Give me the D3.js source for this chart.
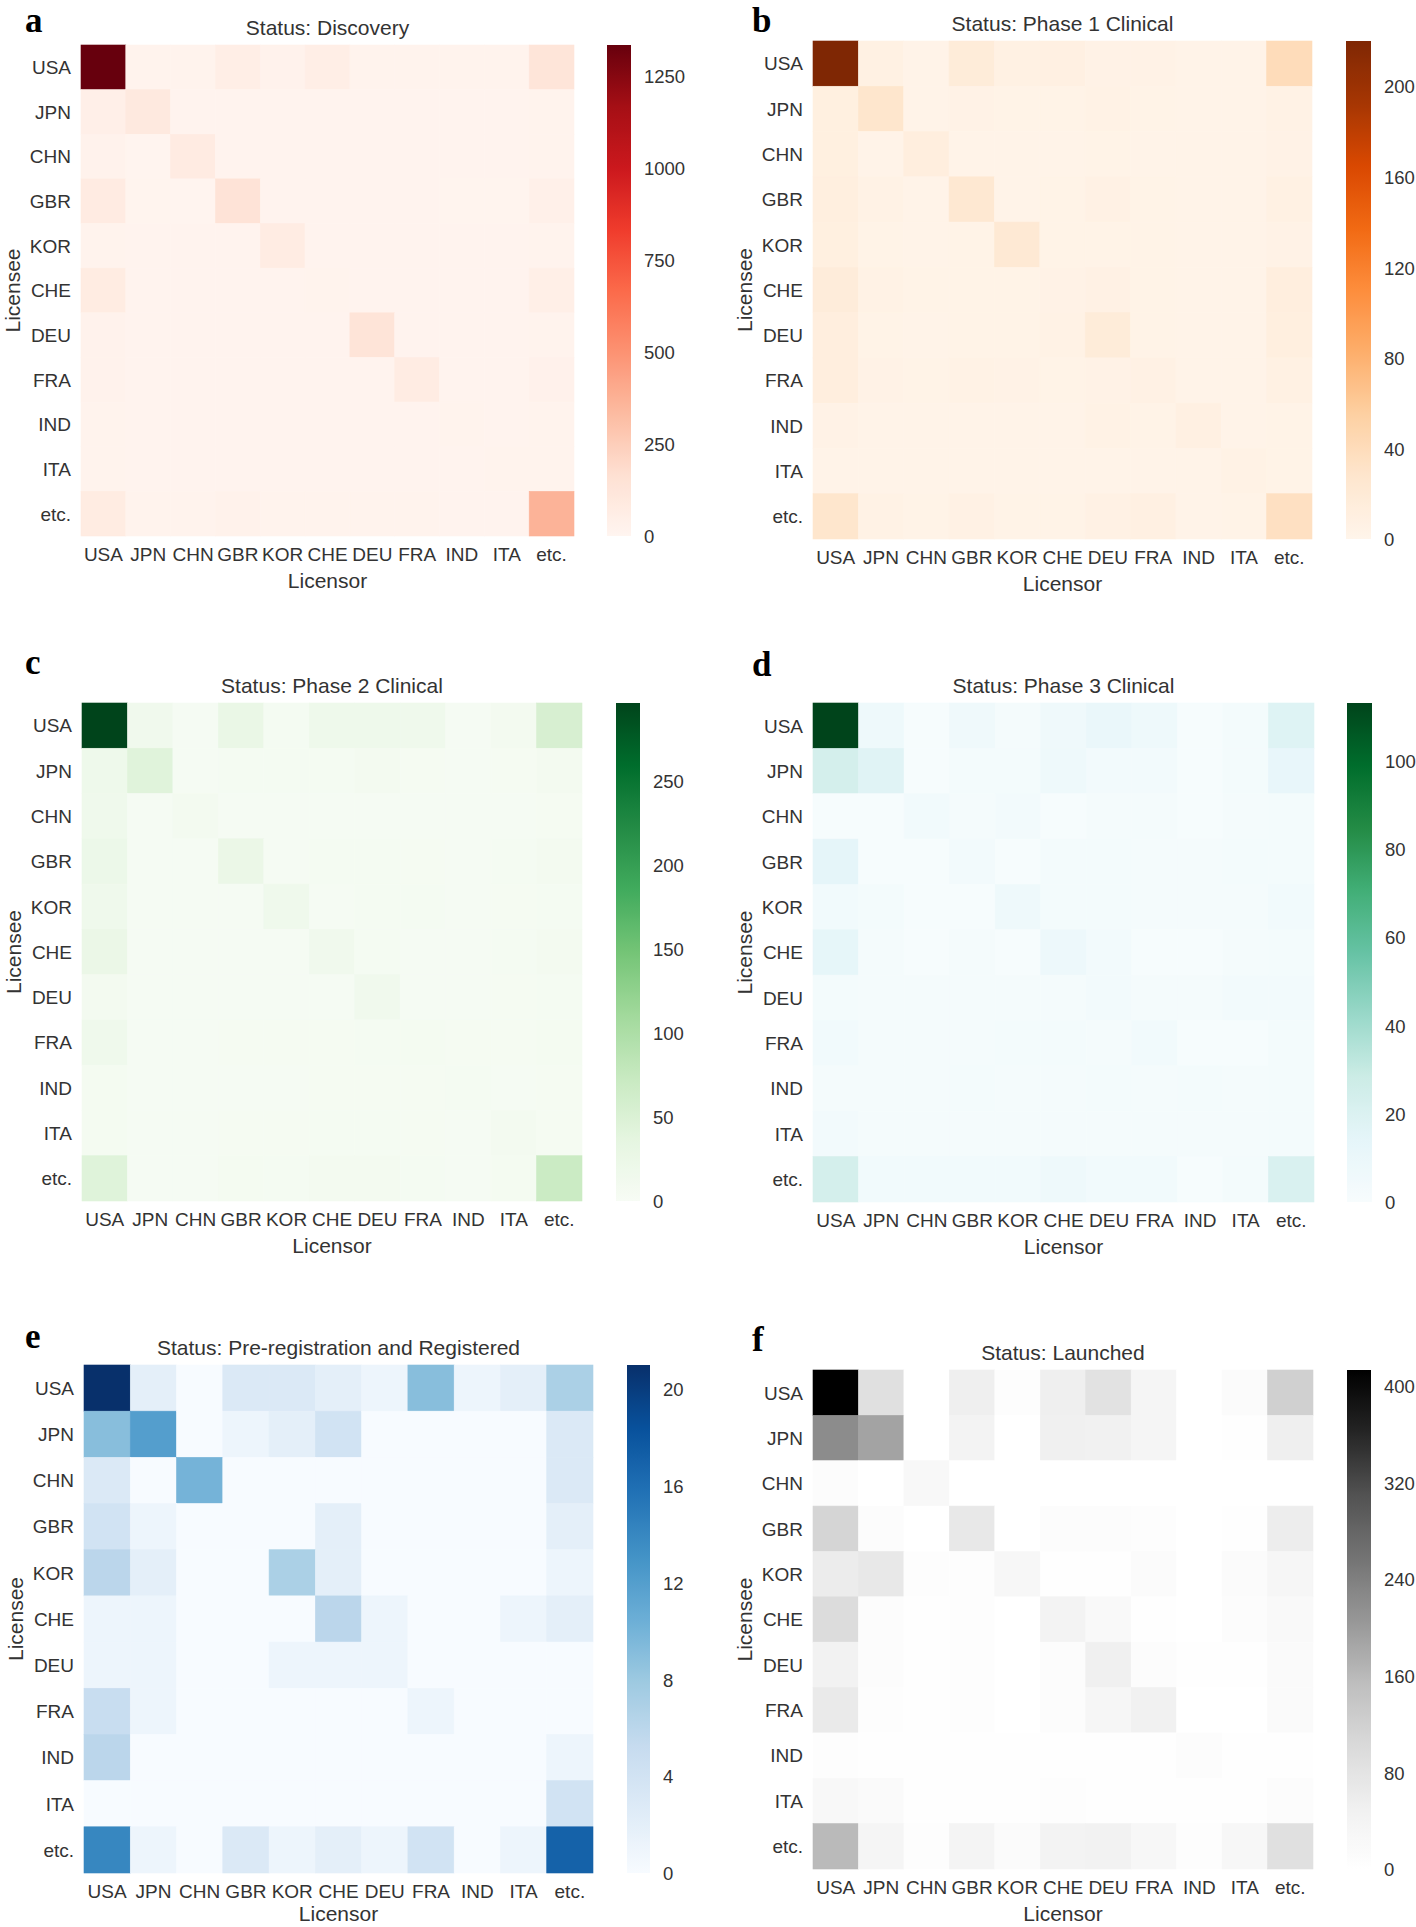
<!DOCTYPE html>
<html><head><meta charset="utf-8">
<script src="https://cdn.jsdelivr.net/npm/d3@7"></script>
<style>
body{margin:0;background:#fff}
svg{display:block}
</style>
</head><body>
<svg id="chart" width="1416" height="1927"></svg>
<script>
// ---------- data ----------
const countries = ["USA","JPN","CHN","GBR","KOR","CHE","DEU","FRA","IND","ITA","etc."];

// rows = Licensee, columns = Licensor
const discovery = [
  [1333, 18, 16, 55, 22, 55, 15, 15, 15, 15, 125],
  [45, 95, 12, 12, 12, 12, 12, 12, 12, 12, 15],
  [24, 8, 80, 12, 12, 12, 12, 12, 12, 12, 15],
  [80, 10, 8, 140, 12, 12, 12, 12, 10, 10, 40],
  [16, 12, 12, 12, 70, 12, 12, 12, 12, 12, 15],
  [75, 12, 12, 12, 12, 15, 12, 12, 12, 12, 48],
  [24, 12, 12, 12, 12, 12, 135, 12, 12, 12, 18],
  [24, 12, 12, 12, 12, 12, 12, 72, 12, 12, 30],
  [16, 12, 12, 12, 12, 12, 12, 12, 14, 12, 14],
  [14, 12, 12, 12, 12, 12, 12, 12, 12, 14, 14],
  [75, 15, 15, 25, 15, 15, 15, 15, 12, 12, 365]
];
const phase1 = [
  [220, 8, 3, 17, 8, 9, 5, 5, 3, 3, 40],
  [10, 28, 3, 5, 4, 4, 6, 4, 3, 3, 6],
  [10, 3, 12, 3, 3, 3, 4, 3, 3, 3, 5],
  [11, 6, 3, 24, 3, 4, 7, 4, 3, 3, 8],
  [10, 4, 3, 4, 22, 4, 4, 4, 3, 3, 5],
  [16, 6, 4, 4, 4, 5, 7, 4, 3, 3, 12],
  [12, 4, 3, 4, 4, 6, 17, 4, 3, 3, 11],
  [12, 5, 4, 6, 5, 4, 5, 7, 3, 3, 8],
  [5, 3, 3, 3, 3, 3, 6, 4, 9, 3, 4],
  [3, 3, 3, 3, 3, 3, 3, 3, 3, 6, 4],
  [28, 6, 4, 7, 4, 4, 7, 9, 3, 4, 35]
];
const phase2 = [
  [296, 14, 4, 27, 6, 18, 18, 16, 4, 8, 54],
  [18, 43, 4, 6, 6, 6, 8, 5, 4, 5, 8],
  [16, 4, 8, 4, 4, 4, 4, 4, 4, 4, 5],
  [22, 4, 4, 25, 4, 6, 6, 5, 4, 6, 8],
  [16, 4, 4, 4, 16, 4, 6, 6, 4, 5, 6],
  [25, 4, 4, 4, 4, 14, 6, 4, 4, 6, 8],
  [8, 4, 4, 4, 4, 4, 14, 4, 4, 5, 6],
  [16, 4, 4, 5, 5, 5, 6, 7, 5, 5, 7],
  [7, 4, 4, 4, 4, 5, 5, 5, 6, 4, 5],
  [7, 4, 4, 5, 5, 6, 6, 5, 4, 8, 5],
  [44, 4, 4, 7, 6, 9, 8, 6, 4, 7, 69]
];
const phase3 = [
  [113, 7, 1, 6, 2, 6, 10, 7, 1, 3, 18],
  [24, 17, 1, 3, 3, 7, 4, 4, 1, 3, 12],
  [1, 1, 5, 2, 4, 1, 2, 2, 1, 2, 3],
  [14, 1, 1, 4, 1, 3, 3, 2, 2, 3, 3],
  [5, 3, 1, 1, 7, 3, 3, 2, 2, 2, 5],
  [13, 2, 1, 2, 1, 8, 4, 1, 1, 2, 3],
  [3, 2, 2, 2, 2, 2, 4, 2, 2, 4, 4],
  [5, 2, 2, 2, 3, 3, 2, 5, 1, 1, 3],
  [2, 2, 2, 3, 2, 2, 3, 2, 3, 2, 3],
  [4, 2, 2, 2, 2, 2, 2, 2, 2, 2, 3],
  [24, 5, 5, 5, 5, 7, 5, 5, 1, 3, 21]
];
const registered = [
  [21, 2, 0, 3, 3, 2, 1, 9, 1, 2, 7],
  [9, 12, 0, 1, 2, 4, 0, 0, 0, 0, 3],
  [3, 0, 10, 0, 0, 0, 0, 0, 0, 0, 3],
  [4, 1, 0, 0, 0, 2, 0, 0, 0, 0, 2],
  [6, 2, 0, 0, 7, 2, 0, 0, 0, 0, 1],
  [1, 1, 0, 0, 0, 6, 1, 0, 0, 1, 2],
  [1, 1, 0, 0, 1, 1, 1, 0, 0, 0, 0],
  [5, 1, 0, 0, 0, 0, 0, 1, 0, 0, 0],
  [6, 0, 0, 0, 0, 0, 0, 0, 0, 0, 1],
  [0, 0, 0, 0, 0, 0, 0, 0, 0, 0, 4],
  [14, 1, 0, 3, 1, 2, 1, 4, 0, 1, 17]
];
const launched = [
  [413, 88, 0, 54, 7, 54, 83, 34, 0, 14, 120],
  [221, 189, 0, 41, 0, 52, 48, 34, 0, 3, 54],
  [10, 0, 24, 0, 0, 0, 0, 0, 0, 0, 0],
  [110, 10, 0, 70, 0, 10, 10, 7, 0, 5, 58],
  [60, 70, 7, 7, 28, 5, 5, 14, 0, 14, 31],
  [96, 10, 3, 7, 0, 41, 21, 3, 0, 10, 21],
  [45, 10, 3, 7, 0, 10, 52, 10, 5, 3, 17],
  [65, 8, 3, 7, 0, 10, 31, 48, 0, 0, 17],
  [7, 3, 3, 3, 3, 3, 3, 3, 10, 3, 5],
  [24, 17, 3, 3, 3, 7, 5, 3, 3, 3, 10],
  [159, 34, 8, 38, 14, 41, 45, 28, 7, 28, 88]
];

const ticksDiscovery = [0, 250, 500, 750, 1000, 1250];
const ticksPhase1 = [0, 40, 80, 120, 160, 200];
const ticksPhase2 = [0, 50, 100, 150, 200, 250];
const ticksPhase3 = [0, 20, 40, 60, 80, 100];
const ticksRegistered = [0, 4, 8, 12, 16, 20];
const ticksLaunched = [0, 80, 160, 240, 320, 400];

const titles = ["Status: Discovery", "Status: Phase 1 Clinical", "Status: Phase 2 Clinical",
                "Status: Phase 3 Clinical", "Status: Pre-registration and Registered", "Status: Launched"];
const letters = ["a", "b", "c", "d", "e", "f"];

// ---------- layout ----------
const panels = [
  {data: discovery,  scheme: d3.schemeReds[9],    ticks: ticksDiscovery,  left: 81,  top: 45,   w: 493, h: 491, cbX: 607,  cbW: 24, lx: 25,  ly: 32},
  {data: phase1,     scheme: d3.schemeOranges[9], ticks: ticksPhase1,     left: 813, top: 41,   w: 499, h: 498, cbX: 1346, cbW: 25, lx: 752, ly: 32},
  {data: phase2,     scheme: d3.schemeGreens[9],  ticks: ticksPhase2,     left: 82,  top: 703,  w: 500, h: 498, cbX: 616,  cbW: 24, lx: 25,  ly: 674},
  {data: phase3,     scheme: d3.schemeBuGn[9],    ticks: ticksPhase3,     left: 813, top: 703,  w: 501, h: 499, cbX: 1347, cbW: 25, lx: 752, ly: 676},
  {data: registered, scheme: d3.schemeBlues[9],   ticks: ticksRegistered, left: 84,  top: 1365, w: 509, h: 508, cbX: 627,  cbW: 23, lx: 25,  ly: 1348},
  {data: launched,   scheme: d3.schemeGreys[9],   ticks: ticksLaunched,   left: 813, top: 1370, w: 500, h: 499, cbX: 1347, cbW: 24, lx: 752, ly: 1351}
];

const FONT = '"Liberation Sans", Arial, Helvetica, sans-serif';
const TXT = "#333333";
const PAGE_H = 1927;
const svg = d3.select("#chart");
const defs = svg.append("defs");

panels.forEach((p, pi) => {
  const vmax = d3.max(p.data.flat());
  const color = d3.scaleLinear()
    .domain(p.scheme.map((_, i) => i / (p.scheme.length - 1) * vmax))
    .range(p.scheme)
    .interpolate(d3.interpolateRgb)
    .clamp(true);

  const x = d3.scaleBand().domain(countries).range([p.left, p.left + p.w]).padding(0);
  const y = d3.scaleBand().domain(countries).range([p.top, p.top + p.h]).padding(0);

  const g = svg.append("g");

  // cells
  const cells = [];
  p.data.forEach((row, ri) => row.forEach((v, ci) => cells.push({r: countries[ri], c: countries[ci], v})));
  g.append("g").selectAll("rect").data(cells).join("rect")
    .attr("x", d => x(d.c)).attr("y", d => y(d.r))
    .attr("width", x.bandwidth()).attr("height", y.bandwidth())
    .attr("fill", d => color(d.v))
    .attr("stroke", d => color(d.v)).attr("stroke-width", 0.6);

  // y axis (licensee)
  const ya = g.append("g").attr("transform", `translate(${p.left},0)`)
    .call(d3.axisLeft(y).tickSize(0).tickPadding(10));
  ya.select(".domain").remove();
  ya.selectAll("text").attr("font-family", FONT).attr("font-size", 19).attr("fill", TXT).attr("dy", "0.36em");

  // x axis (licensor)
  const xa = g.append("g").attr("transform", `translate(0,${p.top + p.h})`)
    .call(d3.axisBottom(x).tickSize(0));
  xa.select(".domain").remove();
  xa.selectAll("text").attr("font-family", FONT).attr("font-size", 19).attr("fill", TXT)
    .attr("y", 18).attr("dy", "0.36em");

  // titles and axis labels
  g.append("text").attr("x", p.left + p.w / 2).attr("y", p.top - 17.5).attr("dy", "0.36em")
    .attr("text-anchor", "middle").attr("font-family", FONT).attr("font-size", 21).attr("fill", TXT)
    .text(titles[pi]);
  const licensorBase = Math.min(p.top + p.h + 52, PAGE_H - 6);
  g.append("text").attr("x", p.left + p.w / 2).attr("y", licensorBase)
    .attr("text-anchor", "middle").attr("font-family", FONT).attr("font-size", 21).attr("fill", TXT)
    .text("Licensor");
  g.append("text").attr("transform", `translate(${p.left - 61},${p.top + p.h / 2}) rotate(-90)`)
    .attr("text-anchor", "middle").attr("font-family", FONT).attr("font-size", 21).attr("fill", TXT)
    .text("Licensee");

  // panel letter
  g.append("text").attr("x", p.lx).attr("y", p.ly)
    .attr("font-family", '"Liberation Serif", "Times New Roman", serif').attr("font-weight", "bold")
    .attr("font-size", 35).attr("fill", "#000").text(letters[pi]);

  // colorbar
  const gid = "grad" + pi;
  const grad = defs.append("linearGradient").attr("id", gid)
    .attr("x1", 0).attr("y1", 1).attr("x2", 0).attr("y2", 0);
  grad.selectAll("stop").data(d3.range(0, 1.0001, 1 / 64)).join("stop")
    .attr("offset", d => d).attr("stop-color", d => color(d * vmax));
  g.append("rect").attr("x", p.cbX).attr("y", p.top).attr("width", p.cbW).attr("height", p.h)
    .attr("fill", `url(#${gid})`);
  const cy = d3.scaleLinear().domain([0, vmax]).range([p.top + p.h, p.top]);
  const ca = g.append("g").attr("transform", `translate(${p.cbX + p.cbW},0)`)
    .call(d3.axisRight(cy).tickValues(p.ticks).tickSize(0).tickPadding(13).tickFormat(d3.format("d")));
  ca.select(".domain").remove();
  ca.selectAll("text").attr("font-family", FONT).attr("font-size", 18.5).attr("fill", TXT).attr("dy", "0.36em");
});
</script>
</body></html>
